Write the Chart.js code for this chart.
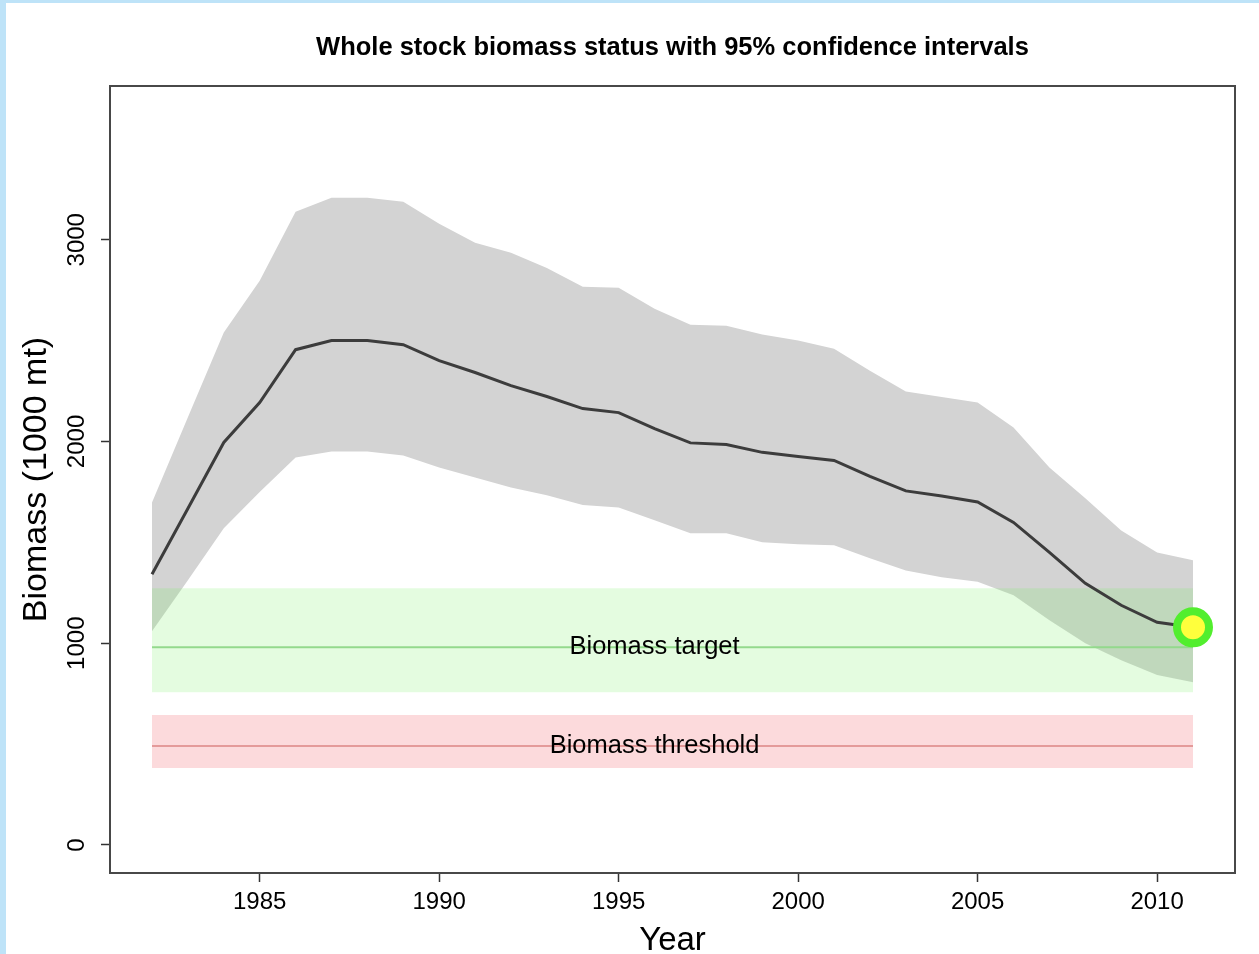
<!DOCTYPE html>
<html>
<head>
<meta charset="utf-8">
<title>Whole stock biomass status</title>
<script src="https://cdn.jsdelivr.net/npm/chart.js@4.4.1/dist/chart.umd.min.js"></script>
<style>
  html, body { margin: 0; padding: 0; background: #fff; }
  #wrap { width: 1253px; height: 951px; border-left: 6px solid #bee3f8; border-top: 3px solid #bee3f8; }
  canvas { display: block; }
</style>
</head>
<body>
<div id="wrap"><canvas id="stock-chart" width="1253" height="951"></canvas></div>
<script>
// data (1000 mt)
var years = [1982, 1983, 1984, 1985, 1986, 1987, 1988, 1989, 1990, 1991,
             1992, 1993, 1994, 1995, 1996, 1997, 1998, 1999, 2000, 2001,
             2002, 2003, 2004, 2005, 2006, 2007, 2008, 2009, 2010, 2011];
var biomass = [1342, 1668, 1995, 2193, 2455, 2500, 2500, 2480, 2401, 2342,
               2277, 2223, 2163, 2143, 2064, 1993, 1985, 1946, 1926, 1906,
               1827, 1755, 1730, 1700, 1599, 1450, 1297, 1188, 1104, 1079];
var upperCI = [1698, 2120, 2540, 2797, 3139, 3208, 3208, 3188, 3079, 2985,
               2936, 2860, 2767, 2762, 2658, 2579, 2574, 2530, 2500, 2460,
               2351, 2248, 2220, 2193, 2069, 1871, 1718, 1559, 1450, 1411];
var lowerCI = [1059, 1312, 1570, 1750, 1921, 1950, 1950, 1931, 1871, 1822,
               1772, 1733, 1685, 1673, 1609, 1545, 1545, 1500, 1490, 1485,
               1421, 1361, 1327, 1305, 1238, 1114, 1000, 916, 842, 807];
var targetBand = [757, 1272];
var targetLevel = 980;
var thresholdBand = [381, 644];
var thresholdLevel = 490;
var refLabels = ["Biomass target", "Biomass threshold"];
var labelYear = 1996;
var xTicks = [1985, 1990, 1995, 2000, 2005, 2010];
var yTicks = [0, 1000, 2000, 3000];
var chartTitle = 'Whole stock biomass status with 95% confidence intervals';

var FONT = '"Liberation Sans", Arial, sans-serif';

function series(vals) {
  return years.map(function(yr, i) { return {x: yr, y: vals[i]}; });
}
function flat(v) {
  return [{x: years[0], y: v}, {x: years[years.length - 1], y: v}];
}

var noLine = {borderWidth: 0, borderColor: 'rgba(0,0,0,0)', pointRadius: 0, fill: false};

var datasets = [
  // 0 median
  {data: series(biomass), borderColor: '#3c3c3c', borderWidth: 3, pointRadius: 0, fill: false, order: 1},
  // 1 latest point
  {data: [{x: years[years.length - 1], y: biomass[biomass.length - 1]}], showLine: false,
   pointRadius: 16, pointBorderWidth: 8, pointBackgroundColor: '#ffff3c', pointBorderColor: '#52ee2e',
   clip: false, order: 0},
  // 2,3 confidence band
  Object.assign({data: series(lowerCI), order: 10}, noLine),
  Object.assign({}, noLine, {data: series(upperCI), fill: 2, backgroundColor: '#d3d3d3', order: 9}),
  // 4,5 target band, 6 target line
  Object.assign({data: flat(targetBand[0]), order: 8}, noLine),
  Object.assign({}, noLine, {data: flat(targetBand[1]), fill: 4, backgroundColor: 'rgba(120,240,100,0.2)', order: 7}),
  {data: flat(targetLevel), borderColor: '#93d98c', borderWidth: 2, pointRadius: 0, fill: false, order: 6},
  // 7,8 threshold band, 9 threshold line
  Object.assign({data: flat(thresholdBand[0]), order: 5}, noLine),
  Object.assign({}, noLine, {data: flat(thresholdBand[1]), fill: 7, backgroundColor: '#fcdadc', order: 4}),
  {data: flat(thresholdLevel), borderColor: '#e49a9a', borderWidth: 2, pointRadius: 0, fill: false, order: 3}
];

var extras = {
  id: 'extras',
  afterDatasetsDraw: function(chart) {
    var ctx = chart.ctx, a = chart.chartArea;
    var xs = chart.scales.x, ys = chart.scales.y;
    ctx.save();
    ctx.fillStyle = '#000';
    ctx.textAlign = 'center';
    ctx.textBaseline = 'middle';

    // title, centred over the plot box
    ctx.font = 'bold 25.5px ' + FONT;
    ctx.fillText(chartTitle, (a.left + a.right) / 2, 45);

    ctx.font = '25.5px ' + FONT;
    ctx.fillText(refLabels[0], xs.getPixelForValue(labelYear), ys.getPixelForValue(targetLevel));
    ctx.fillText(refLabels[1], xs.getPixelForValue(labelYear), ys.getPixelForValue(thresholdLevel));

    // plot box
    ctx.strokeStyle = '#484848';
    ctx.lineWidth = 2;
    ctx.strokeRect(a.left, a.top, a.right - a.left, a.bottom - a.top);

    // rotated y tick labels
    ctx.font = '24px ' + FONT;
    yTicks.forEach(function(v) {
      ctx.save();
      ctx.translate(71, ys.getPixelForValue(v));
      ctx.rotate(-Math.PI / 2);
      ctx.fillText(String(v), 0, 0);
      ctx.restore();
    });
    ctx.restore();
  }
};

var chart1 = new Chart(document.getElementById('stock-chart'), {
  type: 'line',
  data: {datasets: datasets},
  options: {
    responsive: false,
    animation: false,
    layout: {padding: {left: 0, right: 24, top: 83, bottom: 0}},
    plugins: {
      legend: {display: false},
      tooltip: {enabled: false},
      title: {display: false}
    },
    scales: {
      x: {
        type: 'linear',
        min: 1980.83,
        max: 2012.17,
        afterFit: function(s) { s.height = 81; },
        afterBuildTicks: function(s) { s.ticks = xTicks.map(function(v) { return {value: v}; }); },
        border: {display: false},
        grid: {drawOnChartArea: false, drawTicks: true, tickLength: 9, tickColor: '#333', tickWidth: 1.5},
        ticks: {
          color: '#000', font: {family: FONT, size: 24}, padding: 6,
          maxRotation: 0, autoSkip: false,
          callback: function(v) { return String(v); }
        },
        title: {
          display: true, text: 'Year', color: '#000',
          font: {family: FONT, size: 33, lineHeight: 0.8},
          padding: {top: 0, bottom: 0}
        }
      },
      y: {
        type: 'linear',
        min: -139,
        max: 3762,
        afterFit: function(s) { s.width = 104; },
        afterBuildTicks: function(s) { s.ticks = yTicks.map(function(v) { return {value: v}; }); },
        border: {display: false},
        grid: {drawOnChartArea: false, drawTicks: true, tickLength: 9, tickColor: '#333', tickWidth: 1.5},
        ticks: {display: false},
        title: {
          display: true, text: 'Biomass (1000 mt)', color: '#000',
          font: {family: FONT, size: 34},
          padding: {top: 10, bottom: 0}
        }
      }
    }
  },
  plugins: [extras]
});
</script>
</body>
</html>
